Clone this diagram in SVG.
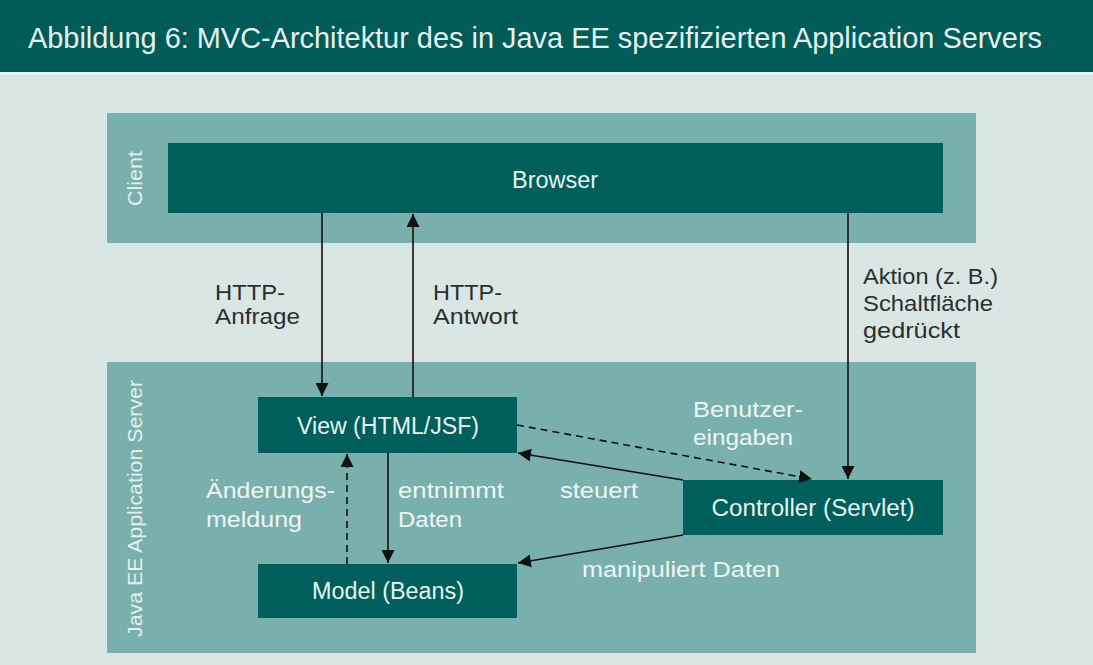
<svg xmlns="http://www.w3.org/2000/svg" width="1093" height="665" viewBox="0 0 1093 665">
<style>
text{font-family:"Liberation Sans","DejaVu Sans",Arial,sans-serif;}
.title{font-size:29px;fill:#e6f0ee;}
.band{fill:#79b0ae;}
.box{fill:#005e5b;}
.nl{font-size:23.5px;fill:#e8f2f0;text-anchor:middle;}
.dl{font-size:22.5px;fill:#2a2e2e;}
.ll{font-size:22.5px;fill:#eef6f4;}
.side{font-size:20px;fill:#e4f0ee;}
.c{stroke:#111;stroke-width:1.6;fill:none;}
.d{stroke-dasharray:7,5;}
</style>
<defs>
<marker id="ah" viewBox="0 0 10 10" refX="10" refY="5" markerWidth="13" markerHeight="13" markerUnits="userSpaceOnUse" orient="auto">
<path d="M0,0 L10,5 L0,10 z" fill="#111"/>
</marker>
</defs>
<rect x="0" y="0" width="1093" height="665" fill="#d9e6e3"/>
<rect x="0" y="0" width="1093" height="72" fill="#005b59"/>
<rect x="0" y="72" width="1093" height="3" fill="#e9f2f0"/>
<text class="title" x="28" y="48" textLength="1014" lengthAdjust="spacingAndGlyphs">Abbildung 6: MVC-Architektur des in Java EE spezifizierten Application Servers</text>

<g id="client-band">
<rect class="band" x="107" y="113" width="869" height="130"/>
<text class="side" transform="translate(142,206) rotate(-90)" textLength="55" lengthAdjust="spacingAndGlyphs">Client</text>
</g>
<g id="server-band">
<rect class="band" x="107" y="362" width="869" height="291"/>
<text class="side" transform="translate(142,637) rotate(-90)" textLength="257" lengthAdjust="spacingAndGlyphs">Java EE Application Server</text>
</g>

<g id="browser">
<rect class="box" x="168" y="143" width="775" height="70"/>
<text class="nl" x="555" y="188" textLength="86" lengthAdjust="spacingAndGlyphs">Browser</text>
</g>
<g id="view">
<rect class="box" x="258" y="397" width="259" height="56"/>
<text class="nl" x="388" y="434" textLength="182" lengthAdjust="spacingAndGlyphs">View (HTML/JSF)</text>
</g>
<g id="model">
<rect class="box" x="258" y="564" width="259" height="54"/>
<text class="nl" x="388" y="599" textLength="152" lengthAdjust="spacingAndGlyphs">Model (Beans)</text>
</g>
<g id="controller">
<rect class="box" x="683" y="480" width="260" height="55"/>
<text class="nl" x="813" y="516" textLength="203" lengthAdjust="spacingAndGlyphs">Controller (Servlet)</text>
</g>

<g id="connectors">
<line class="c" x1="322" y1="213" x2="322" y2="396" marker-end="url(#ah)"/>
<line class="c" x1="413" y1="397" x2="413" y2="214" marker-end="url(#ah)"/>
<line class="c" x1="848" y1="213" x2="848" y2="479" marker-end="url(#ah)"/>
<line class="c d" x1="517" y1="425" x2="812" y2="479" marker-end="url(#ah)"/>
<line class="c" x1="683" y1="480" x2="518" y2="453" marker-end="url(#ah)"/>
<line class="c" x1="683" y1="535" x2="518" y2="563" marker-end="url(#ah)"/>
<line class="c" x1="388" y1="453" x2="388" y2="563" marker-end="url(#ah)"/>
<line class="c d" x1="347" y1="564" x2="347" y2="454" marker-end="url(#ah)"/>
</g>

<g id="labels">
<text class="dl" x="215" y="300" textLength="70" lengthAdjust="spacingAndGlyphs">HTTP-</text>
<text class="dl" x="215" y="324" textLength="85" lengthAdjust="spacingAndGlyphs">Anfrage</text>
<text class="dl" x="433" y="300" textLength="69" lengthAdjust="spacingAndGlyphs">HTTP-</text>
<text class="dl" x="433" y="324" textLength="85" lengthAdjust="spacingAndGlyphs">Antwort</text>
<text class="dl" x="863" y="284" textLength="135" lengthAdjust="spacingAndGlyphs">Aktion (z. B.)</text>
<text class="dl" x="863" y="311" textLength="130" lengthAdjust="spacingAndGlyphs">Schaltfläche</text>
<text class="dl" x="863" y="338" textLength="97" lengthAdjust="spacingAndGlyphs">gedrückt</text>
<text class="ll" x="693" y="417" textLength="110" lengthAdjust="spacingAndGlyphs">Benutzer-</text>
<text class="ll" x="693" y="445" textLength="100" lengthAdjust="spacingAndGlyphs">eingaben</text>
<text class="ll" x="560" y="498" textLength="78" lengthAdjust="spacingAndGlyphs">steuert</text>
<text class="ll" x="582" y="577" textLength="198" lengthAdjust="spacingAndGlyphs">manipuliert Daten</text>
<text class="ll" x="206" y="498" textLength="129" lengthAdjust="spacingAndGlyphs">Änderungs-</text>
<text class="ll" x="206" y="527" textLength="96" lengthAdjust="spacingAndGlyphs">meldung</text>
<text class="ll" x="398" y="498" textLength="106" lengthAdjust="spacingAndGlyphs">entnimmt</text>
<text class="ll" x="398" y="527" textLength="64" lengthAdjust="spacingAndGlyphs">Daten</text>
</g>
</svg>
